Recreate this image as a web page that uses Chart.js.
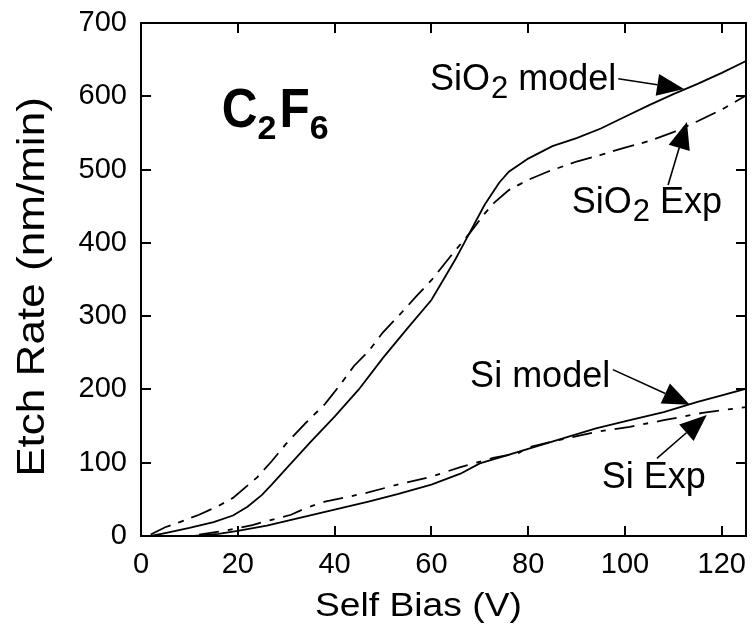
<!DOCTYPE html>
<html>
<head>
<meta charset="utf-8">
<script src="https://cdn.jsdelivr.net/npm/chart.js@4.4.1/dist/chart.umd.min.js"></script>
<style>
  html, body { margin: 0; padding: 0; background: #fff; overflow: hidden; }
  canvas { display: block; }
</style>
</head>
<body>
<canvas id="c" width="753" height="631"></canvas>
<script>
// Etch rate vs. self bias for C2F6 plasma: model curves and experiment
const sio2ModelX = [2, 5, 10, 15, 19, 22, 25, 27, 30, 35, 40, 45, 50, 55, 60, 65, 68, 71, 74, 76, 80, 85, 90, 95, 100, 105, 110, 115, 120, 125];
const sio2ModelY = [0, 4, 11, 19, 28, 40, 56, 70, 92, 128, 163, 200, 243, 283, 322, 378, 415, 452, 482, 497, 515, 532, 543, 556, 572, 588, 603, 617, 632, 648];

const sio2ExpX = [2, 5, 8, 12, 16, 19, 24, 27, 30, 34, 38, 41, 44, 47, 50, 54, 57, 60, 64, 68, 71, 73, 76, 80, 84, 90, 95, 100, 105, 110, 115, 120, 125];
const sio2ExpY = [2, 12, 19, 29, 41, 52, 80, 102, 126, 154, 180, 205, 232, 252, 278, 306, 328, 349, 382, 414, 440, 455, 472, 486, 497, 511, 520, 530, 539, 551, 566, 582, 601];

const siModelX = [11, 16, 20, 26, 33, 40, 47, 53, 60, 66, 70, 74, 80, 87, 94, 101, 108, 115, 120, 125];
const siModelY = [0, 3, 7, 14, 25, 36, 47, 57, 70, 85, 99, 107, 119, 133, 147, 158, 169, 183, 192, 201];

const siExpX = [12, 18, 23, 27, 31, 34, 38, 41, 46, 53, 60, 66, 73, 78, 80, 87, 94, 101, 108, 116, 125];
const siExpY = [2, 8, 15, 22, 29, 38, 47, 51, 58, 70, 81, 94, 107, 113, 121, 132, 142, 149, 158, 168, 176];

const xTicks = [0, 20, 40, 60, 80, 100, 120];
const yTicks = [0, 100, 200, 300, 400, 500, 600, 700];

// Curve labels: [text, subscript, trailing text], anchored (x, y) in data units
const labelParts = [["SiO", "2", " model"], ["SiO", "2", " Exp"], ["Si model", "", ""], ["Si Exp", "", ""]];
const labelX = [59.7, 89.0, 68.0, 95.2];
const labelY = [609, 441, 203, 66];
// Arrow tails and tips in data units
const arrowFromX = [98.6, 108.9, 97.5, 106.6];
const arrowFromY = [624, 479, 227, 106];
const arrowToX = [112.2, 112.8, 113.4, 116.9];
const arrowToY = [610, 565, 179, 165];

const gasX = 16.7, gasY = 558;

const FONT = "'Liberation Sans', Arial, Helvetica, sans-serif";

function pts(xs, ys) { return xs.map((x, i) => ({ x: x, y: ys[i] })); }

function drawArrow(ctx, x0, y0, x1, y1) {
  const ang = Math.atan2(y1 - y0, x1 - x0);
  const len = 27, half = 11;
  const bx = x1 - len * Math.cos(ang), by = y1 - len * Math.sin(ang);
  ctx.beginPath();
  ctx.moveTo(x0, y0);
  ctx.lineTo(bx, by);
  ctx.lineWidth = 1.6;
  ctx.stroke();
  ctx.beginPath();
  ctx.moveTo(x1, y1);
  ctx.lineTo(bx + half * Math.sin(ang), by - half * Math.cos(ang));
  ctx.lineTo(bx - half * Math.sin(ang), by + half * Math.cos(ang));
  ctx.closePath();
  ctx.fill();
}

// Curve labels, arrows, gas name and axis titles
const notes = {
  id: 'notes',
  afterDraw(chart) {
    const ctx = chart.ctx;
    const xs = chart.scales.x, ys = chart.scales.y;
    ctx.save();
    ctx.setLineDash([]);
    ctx.strokeStyle = '#000';
    ctx.fillStyle = '#000';
    ctx.textBaseline = 'alphabetic';
    ctx.textAlign = 'left';
    labelParts.forEach((p, i) => {
      let x = xs.getPixelForValue(labelX[i]);
      const y = ys.getPixelForValue(labelY[i]);
      ctx.font = '36px ' + FONT;
      ctx.fillText(p[0], x, y);
      x += ctx.measureText(p[0]).width;
      if (p[1]) {
        ctx.font = '31px ' + FONT;
        ctx.fillText(p[1], x + 1, y + 8);
        x += ctx.measureText(p[1]).width + 1;
        ctx.font = '36px ' + FONT;
        ctx.fillText(p[2], x, y);
      }
      drawArrow(ctx,
        xs.getPixelForValue(arrowFromX[i]), ys.getPixelForValue(arrowFromY[i]),
        xs.getPixelForValue(arrowToX[i]), ys.getPixelForValue(arrowToY[i]));
    });

    let gx = xs.getPixelForValue(gasX);
    const gy = ys.getPixelForValue(gasY);
    [["C", 0], ["2", 1], ["F", 0], ["6", 1]].forEach(s => {
      ctx.save();
      if (s[1]) {
        ctx.font = 'bold 34px ' + FONT;
        ctx.fillText(s[0], gx, gy + 12);
        gx += ctx.measureText(s[0]).width + 3;
      } else {
        ctx.font = 'bold 55px ' + FONT;
        ctx.translate(gx, gy);
        ctx.scale(0.9, 1);
        ctx.fillText(s[0], 0, 0);
        gx += ctx.measureText(s[0]).width * 0.9;
      }
      ctx.restore();
    });

    ctx.save();
    ctx.font = '34px ' + FONT;
    ctx.translate(315, 616);
    ctx.scale(1.095, 1);
    ctx.fillText('Self Bias (V)', 0, 0);
    ctx.restore();

    ctx.save();
    ctx.font = '38px ' + FONT;
    ctx.translate(44, 287);
    ctx.rotate(-Math.PI / 2);
    ctx.scale(1.16, 1);
    ctx.textAlign = 'center';
    ctx.fillText('Etch Rate (nm/min)', 0, 0);
    ctx.restore();

    ctx.restore();
  }
};

// Full box with inward tick marks on all four sides, painted last
function paintFrame(chart) {
  const ctx = chart.ctx;
  const xs = chart.scales.x, ys = chart.scales.y;
  const L = Math.round(xs.getPixelForValue(0)), R = Math.round(xs.getPixelForValue(125));
  const T = Math.round(ys.getPixelForValue(700)), B = Math.round(ys.getPixelForValue(0));
  ctx.save();
  ctx.setTransform(1, 0, 0, 1, 0, 0);
  ctx.globalAlpha = 1;
  ctx.globalCompositeOperation = 'source-over';
  ctx.fillStyle = '#000';
  ctx.fillRect(L - 1, T - 1, R - L + 2, 2);
  ctx.fillRect(L - 1, B - 1, R - L + 2, 2);
  ctx.fillRect(L - 1, T - 1, 2, B - T + 2);
  ctx.fillRect(R - 1, T - 1, 2, B - T + 2);
  const tl = 10;
  xTicks.forEach(v => {
    const px = Math.round(xs.getPixelForValue(v));
    ctx.fillRect(px - 1, B - tl, 2, tl);
    ctx.fillRect(px - 1, T, 2, tl);
  });
  yTicks.forEach(v => {
    const py = Math.round(ys.getPixelForValue(v));
    ctx.fillRect(L, py - 1, tl, 2);
    ctx.fillRect(R - tl, py - 1, tl, 2);
  });
  ctx.restore();
}

const frame = {
  id: 'frame',
  afterDraw(chart) { paintFrame(chart); },
  afterRender(chart) { paintFrame(chart); }
};

const lineStyle = { borderColor: '#000', borderWidth: 1.8, pointRadius: 0, fill: false, tension: 0 };

new Chart(document.getElementById('c'), {
  type: 'line',
  data: {
    datasets: [
      Object.assign({ label: 'SiO2 model', data: pts(sio2ModelX, sio2ModelY) }, lineStyle),
      Object.assign({ label: 'SiO2 Exp', data: pts(sio2ExpX, sio2ExpY), borderDash: [22, 8, 6, 8] }, lineStyle),
      Object.assign({ label: 'Si model', data: pts(siModelX, siModelY) }, lineStyle),
      Object.assign({ label: 'Si Exp', data: pts(siExpX, siExpY), borderDash: [20, 9, 5, 9] }, lineStyle)
    ]
  },
  options: {
    responsive: false,
    animation: false,
    devicePixelRatio: 1,
    layout: { padding: { top: 23, right: 7, left: 0, bottom: 0 } },
    plugins: { legend: { display: false }, tooltip: { enabled: false } },
    scales: {
      x: {
        type: 'linear', min: 0, max: 125,
        afterBuildTicks(s) { s.ticks = xTicks.map(v => ({ value: v })); },
        afterFit(s) { s.height = 95; s.paddingRight = 0; s.paddingLeft = 0; },
        grid: { display: false, drawTicks: false },
        border: { display: false },
        ticks: { color: '#000', font: { family: FONT, size: 29 }, padding: 12, maxRotation: 0 }
      },
      y: {
        type: 'linear', min: 0, max: 700,
        afterBuildTicks(s) { s.ticks = yTicks.map(v => ({ value: v })); },
        afterFit(s) { s.width = 141; s.paddingTop = 0; s.paddingBottom = 0; },
        grid: { display: false, drawTicks: false },
        border: { display: false },
        ticks: { color: '#000', font: { family: FONT, size: 29 }, padding: 14 }
      }
    }
  },
  plugins: [notes, frame]
});
</script>
</body>
</html>
